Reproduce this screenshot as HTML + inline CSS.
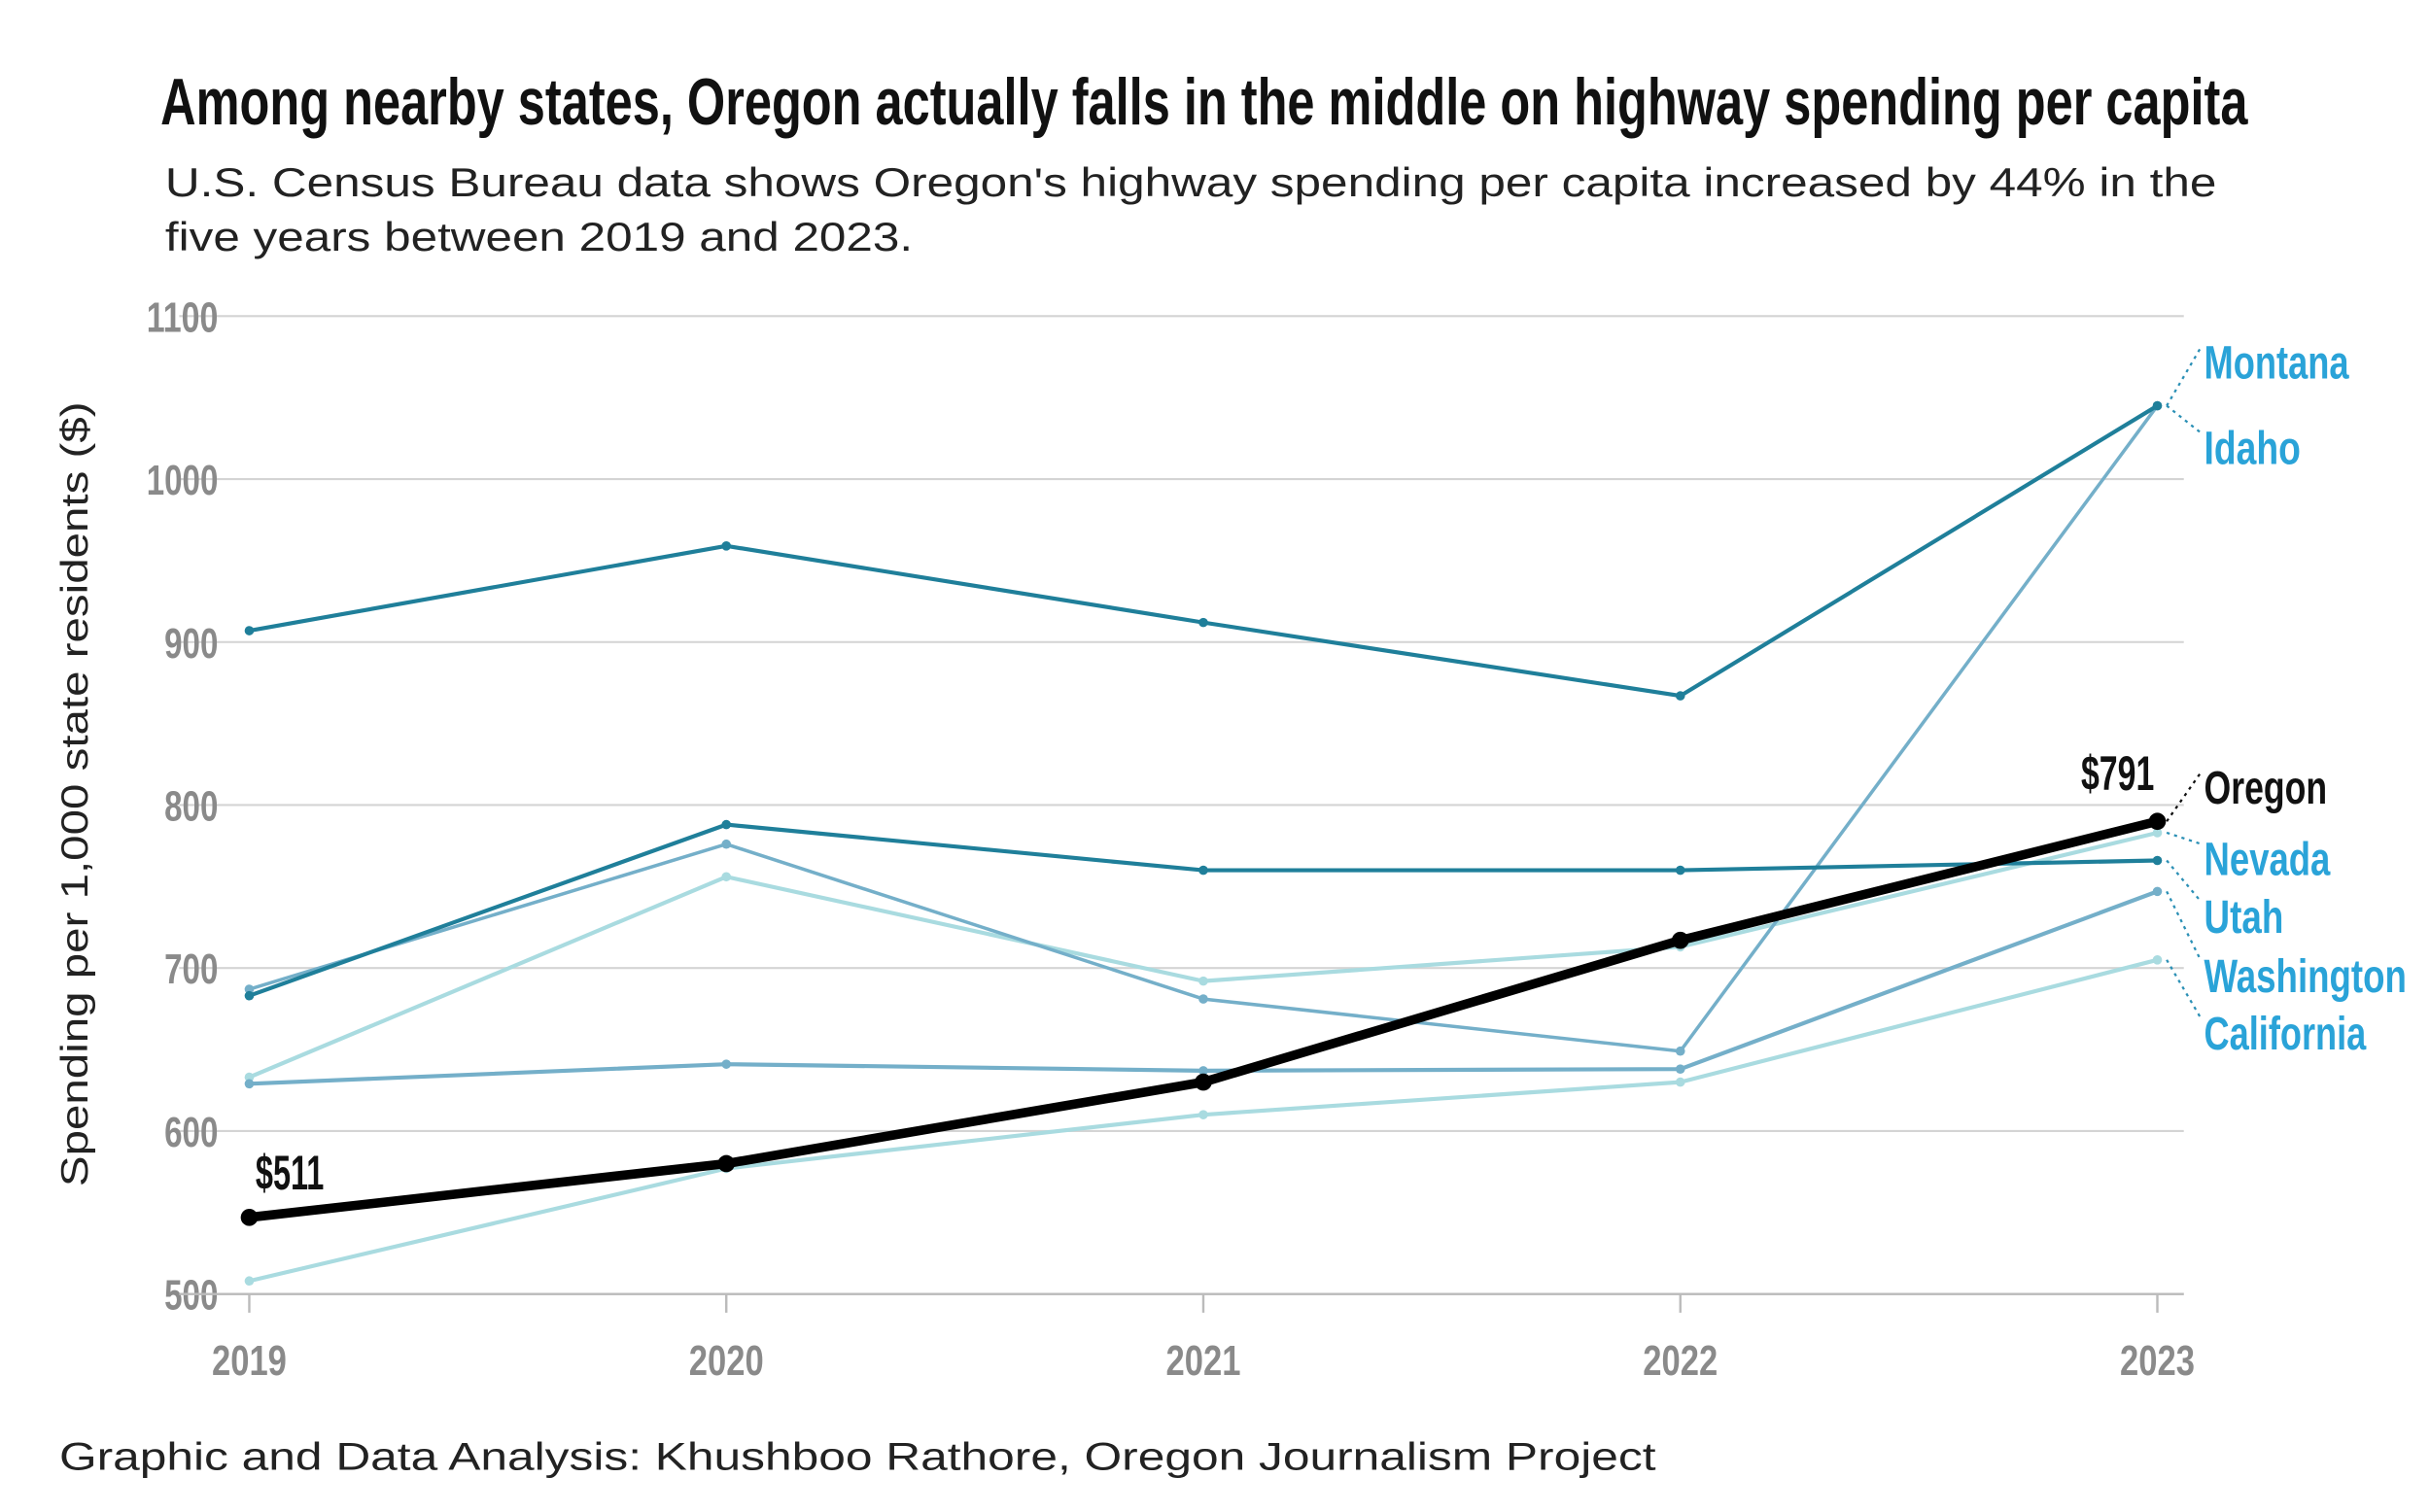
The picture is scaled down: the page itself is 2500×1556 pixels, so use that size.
<!DOCTYPE html>
<html><head><meta charset="utf-8"><style>
html,body{margin:0;padding:0;background:#fff;}
svg{display:block;}
.cond{font-family:"Liberation Sans Narrow","Liberation Sans",sans-serif;font-weight:bold;}
.reg{font-family:"Liberation Sans",sans-serif;}
</style></head><body>
<svg id="chart" width="2500" height="1556" viewBox="0 0 1560 971" xmlns="http://www.w3.org/2000/svg">
<text class="cond" x="103" y="80" font-size="42" fill="#111" textLength="1340" lengthAdjust="spacingAndGlyphs">Among nearby states, Oregon actually falls in the middle on highway spending per capita</text>
<text class="reg" x="106" y="126" font-size="26" fill="#222" textLength="1317" lengthAdjust="spacingAndGlyphs">U.S. Census Bureau data shows Oregon's highway spending per capita increased by 44% in the</text>
<text class="reg" x="106" y="161" font-size="26" fill="#222" textLength="480" lengthAdjust="spacingAndGlyphs">five years between 2019 and 2023.</text>
<text class="reg" transform="translate(56,510) rotate(-90)" text-anchor="middle" font-size="24" fill="#222" textLength="504" lengthAdjust="spacingAndGlyphs">Spending per 1,000 state residents ($)</text>
<g id="grid"></g><g id="series"></g><g id="labels"></g>
<text class="reg" x="38" y="944" font-size="25" fill="#222" textLength="1025" lengthAdjust="spacingAndGlyphs">Graphic and Data Analysis: Khushboo Rathore, Oregon Journalism Project</text>
</svg>
<script>
const years = [2019, 2020, 2021, 2022, 2023];
const yTicks = [500, 600, 700, 800, 900, 1000, 1100];
const montana = [907, 959, 912, 867, 1045];
const idaho = [687, 776, 681, 649, 1045];
const nevada = [683, 788, 760, 760, 766];
const utah = [629, 641, 637, 638, 747];
const washington = [633, 756, 692, 713, 783];
const california = [508, 577, 610, 630, 705];
const oregon = [547, 580, 630, 717, 790];
const oregonStartLabel = "$511";
const oregonEndLabel = "$791";

const NS = "http://www.w3.org/2000/svg";
const xS = i => 160 + (1385 - 160) * (years[i] - years[0]) / (years[years.length-1] - years[0]);
const yS = v => 831 - (v - 500) * (831 - 203) / 600;
function mk(tag, attrs, parent, text){
  const e = document.createElementNS(NS, tag);
  for (const k in attrs) e.setAttribute(k, attrs[k]);
  if (text !== undefined) e.textContent = text;
  parent.appendChild(e); return e;
}
const grid = document.getElementById('grid');
yTicks.forEach(t => {
  const l = mk('line', {x1:115, x2:1402, y1:yS(t), y2:yS(t), stroke:'#d4d4d4', 'stroke-width':1.3}, grid);
  
  
  const w = String(t).length * 11.5;
  const tx = mk('text', {x:140 - w, y:yS(t)+10, class:'cond', 'font-size':27, fill:'#8a8a8a', textLength:w, lengthAdjust:'spacingAndGlyphs'}, grid, t);
  
  
});
const ax = mk('line', {x1:115, x2:1402, y1:831, y2:831, stroke:'#bbb', 'stroke-width':1.5}, grid);


years.forEach((yr, i) => {
  const tk = mk('line', {x1:xS(i), x2:xS(i), y1:831, y2:843, stroke:'#bbb', 'stroke-width':1.5}, grid);
  
  
  const tx = mk('text', {x:xS(i)-24, y:883, class:'cond', 'font-size':27, fill:'#8a8a8a', textLength:48, lengthAdjust:'spacingAndGlyphs'}, grid, yr);
  
  
});
const seriesList = [
  ['california', california, '#a9dbe0', 2.6, 3],
  ['washington', washington, '#a9dbe0', 2.6, 3],
  ['utah', utah, '#74afc9', 2.6, 3],
  ['idaho', idaho, '#74afc9', 2.2, 3],
  ['nevada', nevada, '#1f7f9a', 2.6, 3],
  ['montana', montana, '#1f7f9a', 2.6, 3],
  ['oregon', oregon, '#000', 6, 5.5]
];
const sg = document.getElementById('series');
seriesList.forEach(([name, vals, col, w, r]) => {
  const g = mk('g', {}, sg);
  
  
  const d = vals.map((v,i) => (i?'L':'M') + xS(i) + ',' + yS(v)).join(' ');
  const p = mk('path', {d:d, fill:'none', stroke:col, 'stroke-width':w, 'stroke-linejoin':'round'}, g);
  
  
  vals.forEach((v,i) => {
    const c = mk('circle', {cx:xS(i), cy:yS(v), r:r, fill:col}, g);
    
    
  });
});
const lg = document.getElementById('labels');
const labelList = [
  ['Montana', montana, 233, '#2aa3d8', 93],
  ['Idaho', idaho, 288, '#2aa3d8', 62],
  ['Oregon', oregon, 506, '#111', 79],
  ['Nevada', washington, 552, '#2aa3d8', 81],
  ['Utah', nevada, 589, '#2aa3d8', 51],
  ['Washington', utah, 627, '#2aa3d8', 130],
  ['California', california, 664, '#2aa3d8', 104]
];
labelList.forEach(([name, vals, ly, col, tw]) => {
  const last = vals.length - 1;
  const ln = mk('line', {x1:xS(last)+6, y1:yS(vals[last]), x2:1413, y2:ly-10, stroke: col==='#111'?'#111':'#2a8fb5', 'stroke-width':1.4, 'stroke-dasharray':'2 3'}, lg);
  
  
  const t = mk('text', {x:1415, y:ly+10, class:'cond', 'font-size':30, fill:col, textLength:tw, lengthAdjust:'spacingAndGlyphs'}, lg, name);
  
  
});
const s1 = mk('text', {x:164, y:yS(oregon[0])-18, class:'cond', 'font-size':31, fill:'#111', textLength:44, lengthAdjust:'spacingAndGlyphs'}, lg, oregonStartLabel);


const s2 = mk('text', {x:1336, y:yS(oregon[4])-20, class:'cond', 'font-size':31, fill:'#111', textLength:47, lengthAdjust:'spacingAndGlyphs'}, lg, oregonEndLabel);


</script>
</body></html>
